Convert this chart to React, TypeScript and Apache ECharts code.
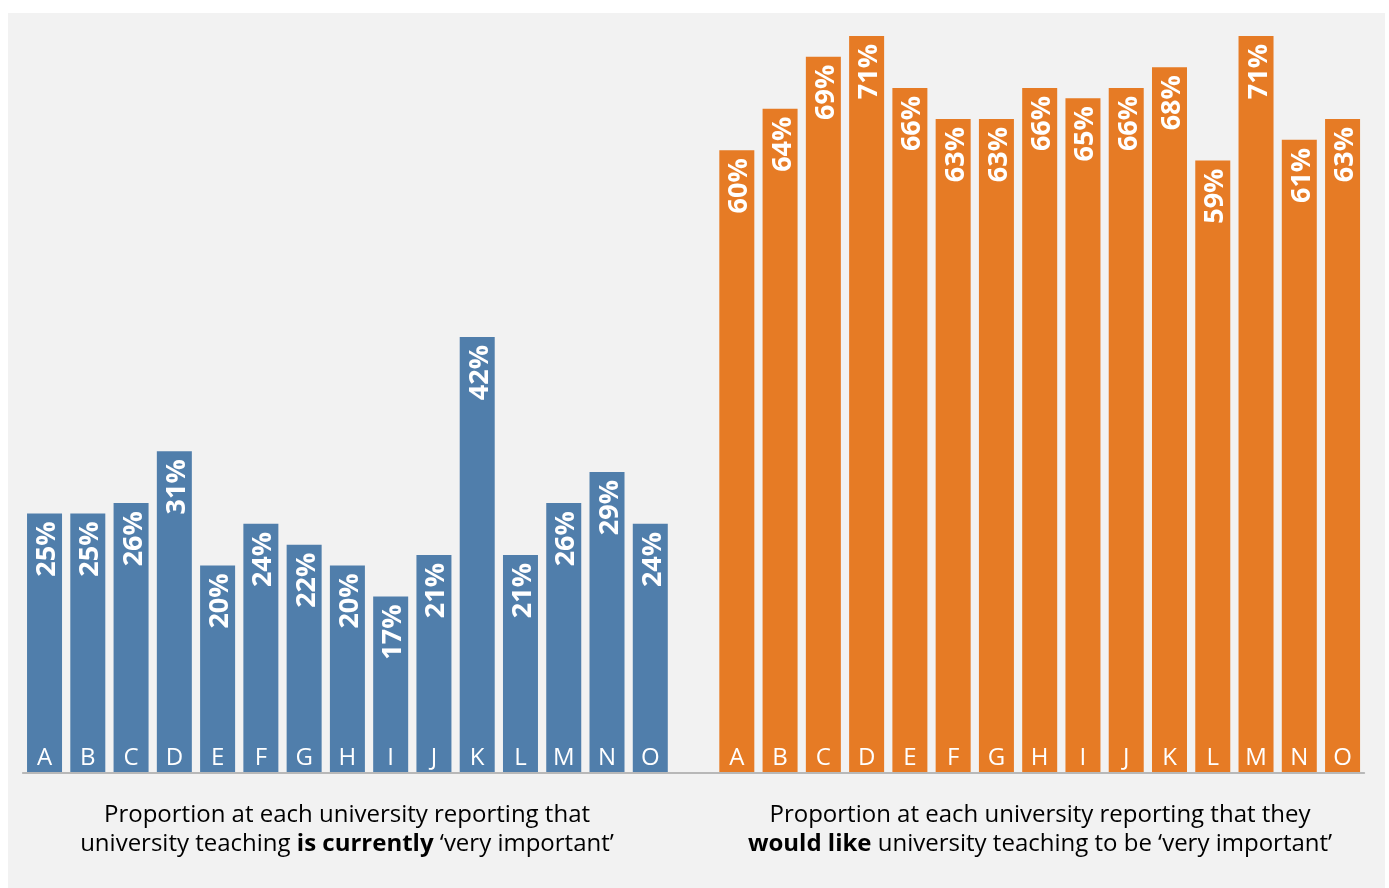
import React, { useEffect, useRef } from "react";
import * as echarts from "echarts";

const letters = ["A", "B", "C", "D", "E", "F", "G", "H", "I", "J", "K", "L", "M", "N", "O"];
const currentValues = [25, 25, 26, 31, 20, 24, 22, 20, 17, 21, 42, 21, 26, 29, 24];
const wouldLikeValues = [60, 64, 69, 71, 66, 63, 63, 66, 65, 66, 68, 59, 71, 61, 63];

const categories = [...letters, "", ...letters];
const blueData: (number | string)[] = [...currentValues, ...Array(16).fill("-")];
const orangeData: (number | string)[] = [...Array(16).fill("-"), ...wouldLikeValues];

const FONT = "'Open Sans', sans-serif";
const BLUE = "#507eab";
const ORANGE = "#e67b25";

export default function App() {
  const ref = useRef<HTMLDivElement>(null);
  useEffect(() => {
    const chart = echarts.init(ref.current!, null, { renderer: "svg" });
    const label = {
      show: true,
      position: "insideTop",
      rotate: 90,
      align: "right",
      verticalAlign: "middle",
      distance: 8,
      color: "#fff",
      fontFamily: FONT,
      fontWeight: "bold",
      fontSize: 27,
      formatter: (p: any) => p.value + "%",
    };
    const rich = {
      n: { fontFamily: FONT, fontSize: 24, color: "#262626", lineHeight: 26 },
      b: { fontFamily: FONT, fontSize: 24, color: "#262626", fontWeight: "bold", lineHeight: 26 },
    };
    const titleLine = (x: number, y: number, text: string) => ({
      type: "text",
      x,
      y,
      style: { text, align: "center", verticalAlign: "middle", rich },
    });
    chart.setOption({
      animation: false,
      graphic: [
        {
          type: "rect",
          z: -10,
          silent: true,
          shape: { x: 8, y: 13, width: 1377, height: 875 },
          style: { fill: "#f2f2f2" },
        },
        titleLine(347, 812, "{n|Proportion at each university reporting that}"),
        titleLine(347, 841, "{n|university teaching }{b|is currently}{n| ‘very important’}"),
        titleLine(1040, 812, "{n|Proportion at each university reporting that they}"),
        titleLine(1040, 841, "{b|would like}{n| university teaching to be ‘very important’}"),
      ],
      grid: { left: 22.9, width: 1341.3, top: 36, bottom: 115, containLabel: false },
      xAxis: {
        type: "category",
        data: categories,
        axisLine: { show: true, lineStyle: { color: "#b8b8b8", width: 2 } },
        axisTick: { show: false },
        axisLabel: {
          inside: true,
          margin: 6,
          interval: 0,
          color: "#fff",
          fontFamily: FONT,
          fontSize: 24,
          verticalAlign: "bottom",
        },
        z: 10,
      },
      yAxis: {
        type: "value",
        min: 0,
        max: 71,
        show: false,
        splitLine: { show: false },
      },
      series: [
        {
          type: "bar",
          data: blueData,
          barWidth: 35,
          barGap: "-100%",
          itemStyle: { color: BLUE },
          label,
        },
        {
          type: "bar",
          data: orangeData,
          barWidth: 35,
          barGap: "-100%",
          itemStyle: { color: ORANGE },
          label,
        },
      ],
    });
    return () => chart.dispose();
  }, []);
  return <div ref={ref} style={{ position: "fixed", left: 0, top: 0, width: 1389, height: 888 }} />;
}
